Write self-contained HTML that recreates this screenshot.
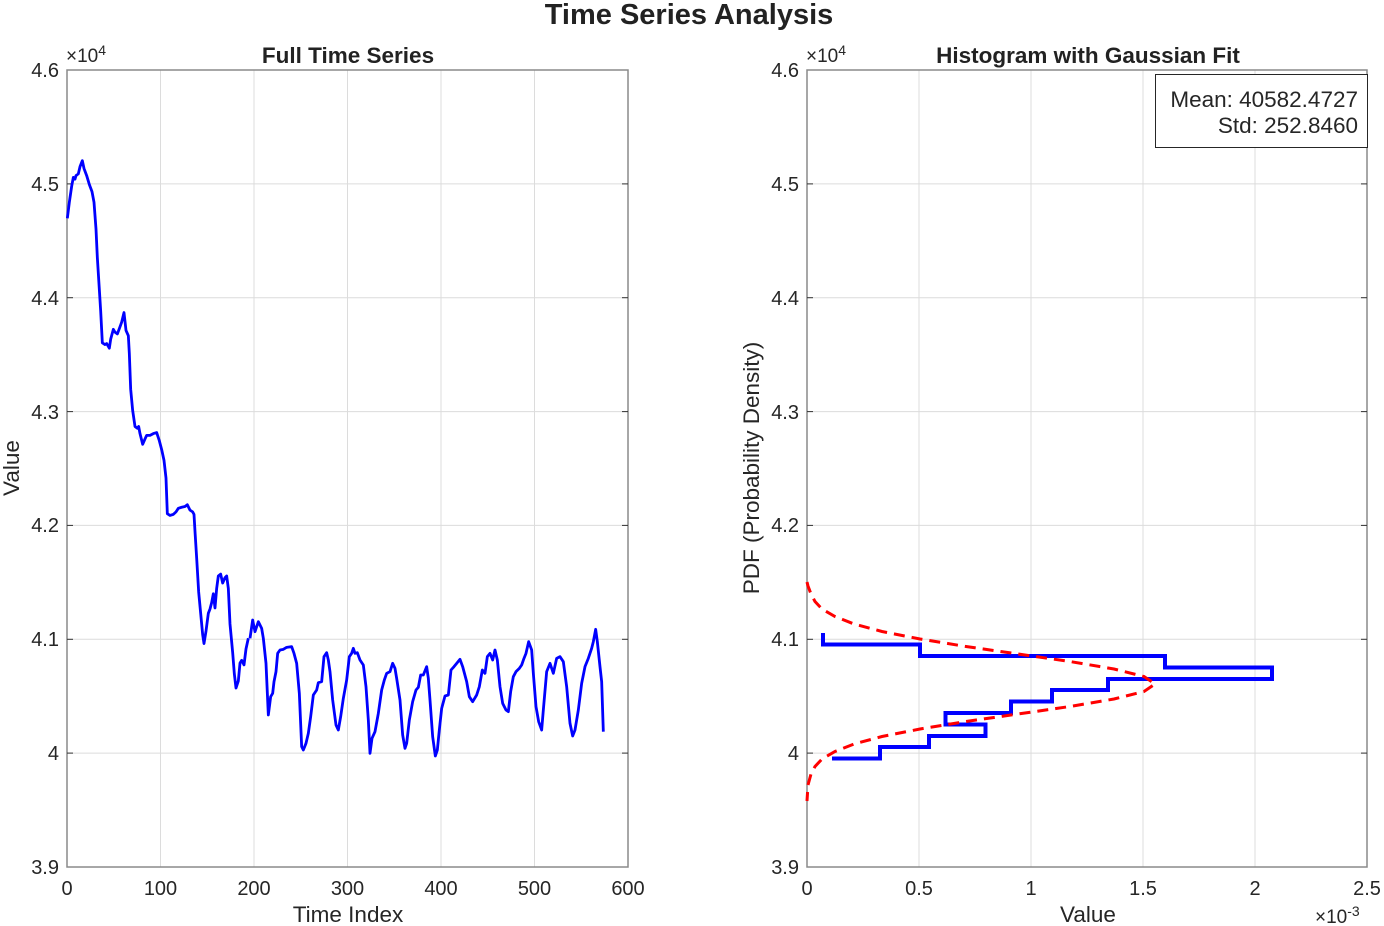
<!DOCTYPE html>
<html><head><meta charset="utf-8"><style>
html,body{margin:0;padding:0;background:#fff;}
svg{display:block;font-family:"Liberation Sans",Arial,sans-serif;}
</style></head><body>
<svg width="1384" height="926" viewBox="0 0 1384 926" xmlns="http://www.w3.org/2000/svg">
<rect width="1384" height="926" fill="#fff"/>
<text x="689" y="24" font-size="29" font-weight="bold" text-anchor="middle" fill="#222">Time Series Analysis</text>

<!-- LEFT AXES -->
<g stroke="#dcdcdc" stroke-width="1">
<line x1="160.5" y1="70" x2="160.5" y2="867"/><line x1="254" y1="70" x2="254" y2="867"/><line x1="347.5" y1="70" x2="347.5" y2="867"/><line x1="441" y1="70" x2="441" y2="867"/><line x1="534.5" y1="70" x2="534.5" y2="867"/>
<line x1="67" y1="183.9" x2="628" y2="183.9"/><line x1="67" y1="297.7" x2="628" y2="297.7"/><line x1="67" y1="411.6" x2="628" y2="411.6"/><line x1="67" y1="525.4" x2="628" y2="525.4"/><line x1="67" y1="639.3" x2="628" y2="639.3"/><line x1="67" y1="753.1" x2="628" y2="753.1"/>
</g>
<rect x="67" y="70" width="561" height="797" fill="none" stroke="#8a8a8a" stroke-width="1.5"/>
<g stroke="#333" stroke-width="1">
<line x1="67" y1="183.9" x2="73" y2="183.9"/><line x1="67" y1="297.7" x2="73" y2="297.7"/><line x1="67" y1="411.6" x2="73" y2="411.6"/><line x1="67" y1="525.4" x2="73" y2="525.4"/><line x1="67" y1="639.3" x2="73" y2="639.3"/><line x1="67" y1="753.1" x2="73" y2="753.1"/>
<line x1="628" y1="183.9" x2="622" y2="183.9"/><line x1="628" y1="297.7" x2="622" y2="297.7"/><line x1="628" y1="411.6" x2="622" y2="411.6"/><line x1="628" y1="525.4" x2="622" y2="525.4"/><line x1="628" y1="639.3" x2="622" y2="639.3"/><line x1="628" y1="753.1" x2="622" y2="753.1"/>
</g>
<g font-size="20" fill="#262626" text-anchor="end">
<text x="59" y="77">4.6</text><text x="59" y="191">4.5</text><text x="59" y="305">4.4</text><text x="59" y="419">4.3</text><text x="59" y="532">4.2</text><text x="59" y="646">4.1</text><text x="59" y="760">4</text><text x="59" y="874">3.9</text>
</g>
<g font-size="20" fill="#262626" text-anchor="middle">
<text x="67" y="895">0</text><text x="160.5" y="895">100</text><text x="254" y="895">200</text><text x="347.5" y="895">300</text><text x="441" y="895">400</text><text x="534.5" y="895">500</text><text x="628" y="895">600</text>
</g>
<text x="66" y="62" font-size="19" fill="#262626">×10<tspan font-size="14" dy="-7">4</tspan></text>
<text x="348" y="63" font-size="22.5" font-weight="bold" text-anchor="middle" fill="#222">Full Time Series</text>
<text x="348" y="922" font-size="22.5" text-anchor="middle" fill="#262626">Time Index</text>
<text transform="translate(19,468) rotate(-90)" font-size="22.5" text-anchor="middle" fill="#262626">Value</text>

<g fill="none" stroke="#0000ff" stroke-width="2.8" stroke-linejoin="round">
<path vector-effect="non-scaling-stroke" transform="translate(60,140) scale(0.33333,0.35587)" d="M22,220 L28,175 L35,130 L40,105 L45,110 L48,100 L55,95 L60,75 L67,58 L72,80 L80,100 L88,125 L96,145 L102,175 L108,250 L112,330 L118,420 L122,480 L127,570 L135,575 L140,572 L148,585 L152,560 L160,532 L165,540 L172,545 L178,530 L185,512 L192,485 L198,535 L205,550 L208,600 L212,700 L218,760 L225,805 L232,810 L236,805 L240,825 L248,855 L255,840 L260,830 L270,830 L280,825 L290,822 L298,845 L305,870 L312,900 L318,950 L322,1050 L330,1055 L340,1052 L348,1045 L355,1035 L365,1032 L375,1030 L382,1025 L390,1040 L398,1045 L402,1052 L405,1100 L410,1175 L416,1270 L422,1330 L428,1390 L432,1415 L438,1380 L445,1330 L450,1318 L455,1300 L460,1275 L465,1315 L470,1260 L475,1225 L482,1220 L488,1245 L495,1230 L500,1225 L505,1260 L510,1360 L518,1440 L523,1500 L528,1540 L535,1520 L540,1470 L545,1462 L552,1475 L558,1430 L565,1400"/>
<path vector-effect="non-scaling-stroke" transform="translate(250,610) scale(0.33333)" d="M0,85 L8,30 L15,65 L25,35 L35,55 L40,85 L48,160 L55,315 L62,260 L68,250 L72,215 L78,185 L83,130 L90,120 L100,118 L110,112 L125,110 L132,130 L140,160 L148,250 L155,410 L160,420 L168,400 L175,370 L182,320 L190,255 L200,240 L205,218 L215,215 L222,140 L230,128 L235,150 L240,185 L248,270 L258,345 L265,360 L272,320 L280,265 L290,210 L298,140 L305,130 L310,115 L315,130 L322,128 L330,150 L340,165 L348,230 L355,330 L360,430 L366,385 L375,365 L385,310 L395,240 L403,210 L410,190 L420,185 L428,160 L435,175 L440,205 L450,270 L458,375 L465,415 L470,400 L478,330 L488,275 L498,240 L505,232 L512,195 L520,195 L530,170 L535,205 L540,270 L548,380 L556,438 L562,420 L568,360 L575,295 L585,258 L595,255 L603,180 L612,170 L620,160 L630,148 L638,170 L650,215 L658,260 L668,275 L680,255 L688,230 L697,180 L705,190 L712,140 L720,130 L728,150 L735,120 L742,150 L750,230 L758,280 L768,300 L775,305 L782,245 L790,200 L798,185 L808,175 L815,165 L822,145 L828,130 L836,95 L845,120 L850,190 L858,290 L866,335 L875,360 L880,300 L890,185 L900,160 L910,190 L920,145 L930,140 L940,155 L950,230 L960,340 L968,378 L975,360 L985,300 L995,220 L1005,170 L1015,145 L1025,115 L1030,95 L1037,58 L1042,95 L1050,170 L1055,215 L1060,365"/>
</g>

<!-- RIGHT AXES -->
<g stroke="#dcdcdc" stroke-width="1">
<line x1="919" y1="70" x2="919" y2="867"/><line x1="1031" y1="70" x2="1031" y2="867"/><line x1="1143" y1="70" x2="1143" y2="867"/><line x1="1255" y1="70" x2="1255" y2="867"/>
<line x1="807" y1="183.9" x2="1367" y2="183.9"/><line x1="807" y1="297.7" x2="1367" y2="297.7"/><line x1="807" y1="411.6" x2="1367" y2="411.6"/><line x1="807" y1="525.4" x2="1367" y2="525.4"/><line x1="807" y1="639.3" x2="1367" y2="639.3"/><line x1="807" y1="753.1" x2="1367" y2="753.1"/>
</g>
<rect x="807" y="70" width="560" height="797" fill="none" stroke="#8a8a8a" stroke-width="1.5"/>
<g stroke="#333" stroke-width="1">
<line x1="807" y1="183.9" x2="813" y2="183.9"/><line x1="807" y1="297.7" x2="813" y2="297.7"/><line x1="807" y1="411.6" x2="813" y2="411.6"/><line x1="807" y1="525.4" x2="813" y2="525.4"/><line x1="807" y1="639.3" x2="813" y2="639.3"/><line x1="807" y1="753.1" x2="813" y2="753.1"/>
<line x1="1367" y1="183.9" x2="1361" y2="183.9"/><line x1="1367" y1="297.7" x2="1361" y2="297.7"/><line x1="1367" y1="411.6" x2="1361" y2="411.6"/><line x1="1367" y1="525.4" x2="1361" y2="525.4"/><line x1="1367" y1="639.3" x2="1361" y2="639.3"/><line x1="1367" y1="753.1" x2="1361" y2="753.1"/>
</g>
<g font-size="20" fill="#262626" text-anchor="end">
<text x="799" y="77">4.6</text><text x="799" y="191">4.5</text><text x="799" y="305">4.4</text><text x="799" y="419">4.3</text><text x="799" y="532">4.2</text><text x="799" y="646">4.1</text><text x="799" y="760">4</text><text x="799" y="874">3.9</text>
</g>
<g font-size="20" fill="#262626" text-anchor="middle">
<text x="807" y="895">0</text><text x="919" y="895">0.5</text><text x="1031" y="895">1</text><text x="1143" y="895">1.5</text><text x="1255" y="895">2</text><text x="1367" y="895">2.5</text>
</g>
<text x="806" y="62" font-size="19" fill="#262626">×10<tspan font-size="14" dy="-7">4</tspan></text>
<text x="1315" y="923" font-size="19" fill="#262626">×10<tspan font-size="14" dy="-7">-3</tspan></text>
<text x="1088" y="63" font-size="22.5" font-weight="bold" text-anchor="middle" fill="#222">Histogram with Gaussian Fit</text>
<text x="1088" y="922" font-size="22.5" text-anchor="middle" fill="#262626">Value</text>
<text transform="translate(759,468) rotate(-90)" font-size="22.5" text-anchor="middle" fill="#262626">PDF (Probability Density)</text>

<polyline fill="none" stroke="#0000ff" stroke-width="4" points="823,633 823,644.5 920,644.5 920,656 1165,656 1165,667.5 1272,667.5 1272,679 1108,679 1108,690 1052,690 1052,701.5 1011,701.5 1011,713 945.5,713 945.5,724.5 985.5,724.5 985.5,736 929,736 929,747 880,747 880,758.5 832,758.5"/>
<polyline fill="none" stroke="#ff0000" stroke-width="3" stroke-dasharray="11 7" points="807,582 808,586 811,594 815,601.5 822,609 835,616.5 854,624 882,631.5 920,639 966,646.5 1018,654 1070,661.5 1114,669 1144,676.5 1155,684 1144,691.5 1114,699 1070,706.5 1018,714 966,721.5 920,729 882,736.5 854,744 835,751.5 822,759 815,766.5 811,774 808,785 807,801"/>

<rect x="1155.5" y="74.5" width="212" height="73" fill="#fff" stroke="#262626" stroke-width="1"/>
<g font-size="22.5" fill="#262626" text-anchor="end">
<text x="1358" y="107">Mean: 40582.4727</text>
<text x="1358" y="133">Std: 252.8460</text>
</g>
</svg>
</body></html>
